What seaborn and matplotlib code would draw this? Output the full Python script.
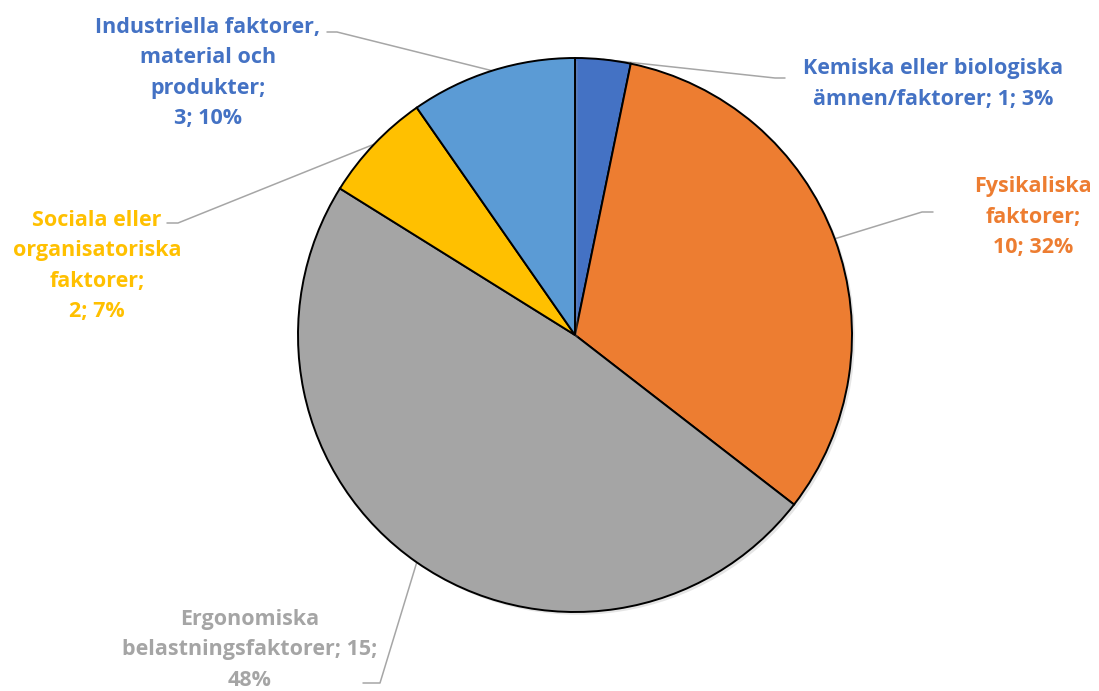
import numpy as np
import seaborn as sns
import matplotlib.pyplot as plt
import matplotlib.patheffects as pe

# data
categories = ['Kemiska eller biologiska\nämnen/faktorer', 'Fysikaliska\nfaktorer',
              'Ergonomiska\nbelastningsfaktorer', 'Sociala eller\norganisatoriska\nfaktorer',
              'Industriella faktorer,\nmaterial och\nprodukter']
counts = [1, 10, 15, 2, 3]
label_texts = ['Kemiska eller biologiska\nämnen/faktorer; 1; 3%',
               'Fysikaliska\nfaktorer;\n10; 32%',
               'Ergonomiska\nbelastningsfaktorer; 15;\n48%',
               'Sociala eller\norganisatoriska\nfaktorer;\n2; 7%',
               'Industriella faktorer,\nmaterial och\nprodukter;\n3; 10%']
slice_colors = ['#4472C4', '#ED7D31', '#A5A5A5', '#FFC000', '#5B9BD5']
text_colors = ['#4472C4', '#ED7D31', '#A5A5A5', '#FFC000', '#4472C4']

sns.set_theme(style='white')
plt.rcParams['font.family'] = ['Open Sans', 'DejaVu Sans']

W, H = 1099, 691
fig = plt.figure(figsize=(W / 100, H / 100), dpi=100)
ax = fig.add_axes([0, 0, 1, 1])

cx, cy, r = 575, H - 335, 277
wedges, _ = ax.pie(counts, colors=slice_colors, startangle=90, counterclock=False,
                   center=(cx, cy), radius=r,
                   wedgeprops=dict(edgecolor='black', linewidth=1.4,
                                   path_effects=[pe.SimplePatchShadow(offset=(2, -2), shadow_rgbFace='#999999', alpha=0.25),
                                                 pe.Normal()]))

# label layout (pixel coords from top-left): text center, elbow, line end
layout = [
    dict(text=(933, 84), pts=[(775, 78), (785, 78)]),
    dict(text=(1033, 217), pts=[(922, 212), (933, 212)]),
    dict(text=(250, 650), pts=[(380, 683), (363, 683)]),
    dict(text=(97, 266), pts=[(178, 223), (167, 223)]),
    dict(text=(208, 73), pts=[(337, 32), (327, 32)]),
]

for w, lab, col, lay in zip(wedges, label_texts, text_colors, layout):
    mid = np.deg2rad((w.theta1 + w.theta2) / 2)
    ax_, ay_ = cx + r * np.cos(mid), cy + r * np.sin(mid)
    xs = [ax_] + [p[0] for p in lay['pts']]
    ys = [ay_] + [H - p[1] for p in lay['pts']]
    ax.plot(xs, ys, color='#A6A6A6', lw=1.1, zorder=0)
    tx, ty = lay['text']
    ax.text(tx, H - ty, lab, ha='center', va='center', color=col,
            fontsize=15.5, fontweight='bold', linespacing=1.6)

ax.set_xlim(0, W)
ax.set_ylim(0, H)
ax.set_aspect('equal')
ax.axis('off')

plt.savefig('out.png', dpi=100)
